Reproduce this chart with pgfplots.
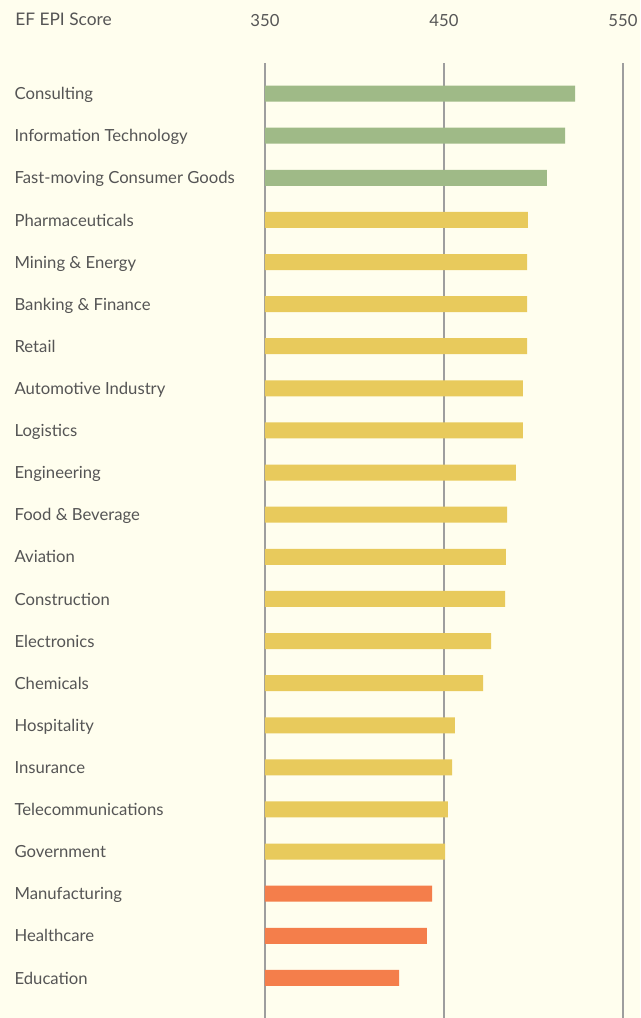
\documentclass[border=0pt]{standalone}
\usepackage{pgfplots}
\pgfplotsset{compat=1.18}
\usepackage{fontspec}
\setmainfont{Lato}
\definecolor{bg}{HTML}{FFFEEE}
\definecolor{txt}{HTML}{555555}
\definecolor{cgreen}{HTML}{9FBA87}
\definecolor{cyellow}{HTML}{E8CA5C}
\definecolor{corange}{HTML}{F47E4B}
\begin{document}
\begin{tikzpicture}[x=1pt,y=1pt]
\path[use as bounding box] (-198.75,0) rectangle (281.25,763.5);
\fill[bg] (-198.75,0) rectangle (281.25,763.5);
\begin{axis}[
  at={(0,0)}, anchor=south west,
  scale only axis,
  width=268.5pt, height=716.25pt,
  xmin=350, xmax=550,
  ymin=-0.726, ymax=21.952,
  y dir=reverse,
  xbar, bar width=12pt, bar shift=0pt,
  axis line style={draw=none},
  xtick={350,550}, xticklabels={350,550},
  extra x ticks={450}, extra x tick labels={450},
  extra x tick style={grid style={color=black!72, line width=1.1pt}},
  xmajorgrids, major grid style={color=black!38, line width=1.2pt},
  xticklabel pos=upper,
  xtick style={draw=none}, ytick style={draw=none},
  xticklabel style={anchor=base, yshift=27.75pt, font=\fontsize{12.5}{14}\selectfont, text=txt},
  ytick={0,...,21},
  yticklabels={Consulting,Information Technology,Fast-moving Consumer Goods,Pharmaceuticals,Mining \& Energy,Banking \& Finance,Retail,Automotive Industry,Logistics,Engineering,Food \& Beverage,Aviation,Construction,Electronics,Chemicals,Hospitality,Insurance,Telecommunications,Government,Manufacturing,Healthcare,Education},
  yticklabel style={anchor=base west, inner sep=0pt, xshift=-183.75pt, yshift=-4.6pt, font=\fontsize{12.5}{14}\selectfont, text=txt},
  clip=true,
]
\addplot[fill=cgreen, draw=none] coordinates {(523.2,0) (517.6,1) (507.5,2)};
\addplot[fill=cyellow, draw=none] coordinates {(496.9,3) (496.4,4) (496.4,5) (496.4,6) (494.1,7) (494.1,8) (490.2,9) (485.2,10) (484.6,11) (484.1,12) (476.3,13) (471.8,14) (456.1,15) (454.5,16) (452.2,17) (450.6,18)};
\addplot[fill=corange, draw=none] coordinates {(443.3,19) (440.5,20) (424.9,21)};
\end{axis}
\node[anchor=base west, inner sep=0pt, text=txt, font=\fontsize{13}{15}\selectfont] at (-187.5,744) {EF EPI Score};
\end{tikzpicture}
\end{document}
